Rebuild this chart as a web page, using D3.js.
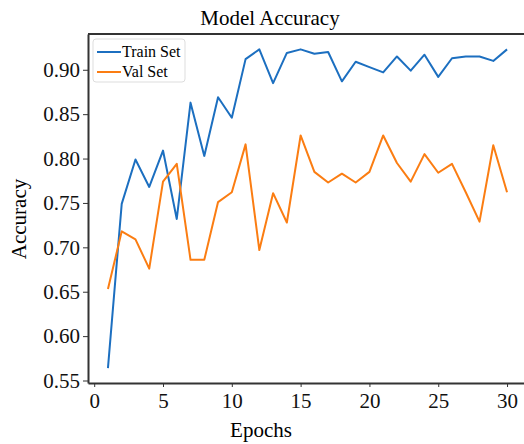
<!DOCTYPE html>
<html>
<head>
    <meta charset="utf-8">
    <title>Model Accuracy</title>
    <style>
        body { margin: 0; background: #fff; }
        svg { font-family: 'Liberation Serif', 'Times New Roman', serif; }
        .tick text { fill: #111; }
        .domain, .tick line { stroke: #333; }
    </style>
</head>
<body>
    <figure style="margin:0"></figure>
    <script src="https://d3js.org/d3.v7.min.js"></script>
    <script>
        // data
        const epochs = d3.range(1, 31)
        const trainAcc = [0.564, 0.749, 0.799, 0.768, 0.809, 0.732, 0.863, 0.803, 0.869, 0.846,
            0.912, 0.923, 0.885, 0.919, 0.923, 0.918, 0.920, 0.887, 0.909, 0.903,
            0.897, 0.915, 0.899, 0.917, 0.892, 0.913, 0.915, 0.915, 0.910, 0.923]
        const valAcc = [0.653, 0.718, 0.709, 0.676, 0.774, 0.794, 0.686, 0.686, 0.751, 0.762,
            0.816, 0.697, 0.761, 0.728, 0.826, 0.785, 0.773, 0.783, 0.773, 0.785,
            0.826, 0.795, 0.774, 0.805, 0.784, 0.794, 0.762, 0.729, 0.815, 0.762]
        const xTicks = [0, 5, 10, 15, 20, 25, 30]
        const yTicks = [0.55, 0.60, 0.65, 0.70, 0.75, 0.80, 0.85, 0.90]
        const seriesNames = ['Train Set', 'Val Set']
        const colors = ['#1c6fc0', '#fb7d12']

        // svg setup
        const W = 524, H = 444
        const margin = { left: 88, right: -3, top: 34, bottom: 61 }

        const svg = d3.select('figure').append('svg')
            .attr('width', W)
            .attr('height', H)

        const x = d3.scaleLinear()
            .domain([-0.45, 31.45])
            .range([margin.left, W - margin.right])

        const y = d3.scaleLinear()
            .domain([0.5472, 0.9403])
            .range([H - margin.bottom, margin.top])

        // axes
        svg.append('g')
            .attr('transform', `translate(0,${H - margin.bottom})`)
            .call(d3.axisBottom(x).tickValues(xTicks).tickSize(4).tickPadding(6).tickSizeOuter(0))
            .call(g => g.selectAll('text').attr('font-size', 21).attr('font-family', 'Liberation Serif'))
            .call(g => g.select('.domain').attr('stroke-width', 2))

        svg.append('g')
            .attr('transform', `translate(${margin.left},0)`)
            .call(d3.axisLeft(y).tickValues(yTicks).tickFormat(d3.format('.2f')).tickSize(5).tickPadding(3).tickSizeOuter(0))
            .call(g => g.selectAll('text').attr('font-size', 21).attr('font-family', 'Liberation Serif'))
            .call(g => g.select('.domain').attr('stroke-width', 2))

        // top + right spines
        svg.append('line')
            .attr('x1', margin.left).attr('x2', W - margin.right)
            .attr('y1', margin.top).attr('y2', margin.top)
            .attr('stroke', '#333').attr('stroke-width', 2)
        svg.append('line')
            .attr('x1', W - margin.right).attr('x2', W - margin.right)
            .attr('y1', margin.top).attr('y2', H - margin.bottom)
            .attr('stroke', '#333').attr('stroke-width', 2)

        // lines
        const line = d3.line()
            .x((d, i) => x(epochs[i]))
            .y(d => y(d))

        ;[trainAcc, valAcc].forEach((s, k) => {
            svg.append('path')
                .datum(s)
                .attr('fill', 'none')
                .attr('stroke', colors[k])
                .attr('stroke-width', 2)
                .attr('stroke-linejoin', 'round')
                .attr('d', line)
        })

        // labels
        svg.append('text')
            .attr('x', 270).attr('y', 25)
            .attr('text-anchor', 'middle')
            .attr('font-size', 21)
            .text('Model Accuracy')

        svg.append('text')
            .attr('x', 261).attr('y', 437)
            .attr('text-anchor', 'middle')
            .attr('font-size', 21)
            .text('Epochs')

        svg.append('text')
            .attr('transform', 'translate(26,219) rotate(-90)')
            .attr('text-anchor', 'middle')
            .attr('font-size', 21)
            .text('Accuracy')

        // legend
        const legend = svg.append('g')
        legend.append('rect')
            .attr('x', 93).attr('y', 39)
            .attr('width', 92).attr('height', 43)
            .attr('rx', 3)
            .attr('fill', '#fff').attr('fill-opacity', 0.85)
            .attr('stroke', '#ddd')

        seriesNames.forEach((name, k) => {
            const ly = 52 + k * 20
            legend.append('line')
                .attr('x1', 97).attr('x2', 121)
                .attr('y1', ly).attr('y2', ly)
                .attr('stroke', colors[k]).attr('stroke-width', 2)
            legend.append('text')
                .attr('x', 122).attr('y', ly + 5)
                .attr('font-size', 16)
                .text(name)
        })
    </script>
</body>
</html>
